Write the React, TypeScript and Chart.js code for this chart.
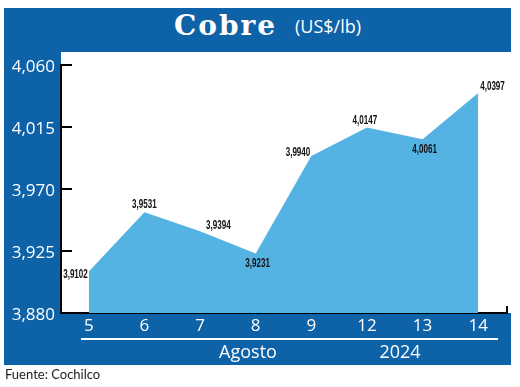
import React, { useEffect, useRef } from "react";
import { Chart, registerables } from "chart.js";

Chart.register(...registerables);

const CATEGORIES = ["5", "6", "7", "8", "9", "12", "13", "14"];
const PRICES = [3.9102, 3.9531, 3.9394, 3.9231, 3.994, 4.0147, 4.0061, 4.0397];
const Y_TICKS = [3.88, 3.925, 3.97, 4.015, 4.06];
const MONTH_LABEL = "Agosto";
const YEAR_LABEL = "2024";
const TITLE = "Cobre";
const UNIT = "(US$/lb)";
const SOURCE = "Fuente: Cochilco";

const BLUE = "#0e62a8";
const AREA = "#55b3e3";

const fmt = (v: number, d: number) => v.toFixed(d).replace(".", ",");

// label placement relative to each point (presentation only)
const LABEL_OFFSETS: { align: CanvasTextAlign; dx: number; dy: number }[] = [
  { align: "right", dx: -1, dy: 3 },
  { align: "center", dx: 0, dy: -8 },
  { align: "left", dx: 6, dy: -6 },
  { align: "center", dx: 2, dy: 10 },
  { align: "right", dx: -1, dy: -4 },
  { align: "center", dx: -2, dy: -7 },
  { align: "center", dx: 2, dy: 10 },
  { align: "left", dx: 2, dy: -7 },
];

const decorPlugin = {
  id: "decor",
  afterDraw(chart: any) {
    const ctx: CanvasRenderingContext2D = chart.ctx;
    const { left, right, bottom } = chart.chartArea;
    const y = chart.scales.y;
    ctx.save();
    ctx.strokeStyle = "#000";
    ctx.lineWidth = 2;
    Y_TICKS.forEach((t) => {
      const py = Math.round(y.getPixelForValue(t));
      ctx.beginPath();
      ctx.moveTo(left, py);
      ctx.lineTo(left + 11, py);
      ctx.stroke();
    });
    ctx.beginPath();
    ctx.moveTo(right + 1, bottom + 1);
    ctx.lineTo(right + 1, bottom - 7);
    ctx.stroke();

    const meta = chart.getDatasetMeta(0);
    ctx.fillStyle = "#111";
    ctx.font = 'bold 13px "Liberation Sans", Arial, sans-serif';
    ctx.textBaseline = "middle";
    meta.data.forEach((pt: any, i: number) => {
      const o = LABEL_OFFSETS[i];
      ctx.save();
      ctx.translate(pt.x + o.dx, pt.y + o.dy);
      ctx.scale(0.62, 1);
      ctx.textAlign = o.align;
      ctx.fillText(fmt(PRICES[i], 4), 0, 0);
      ctx.restore();
    });
    ctx.restore();
  },
};

export default function App() {
  const ref = useRef<HTMLCanvasElement | null>(null);

  useEffect(() => {
    if (!ref.current) return;
    const chart = new Chart(ref.current, {
      type: "line",
      data: {
        labels: CATEGORIES,
        datasets: [
          {
            data: PRICES,
            fill: "start",
            backgroundColor: AREA,
            borderColor: AREA,
            borderWidth: 0,
            pointRadius: 0,
            tension: 0,
          },
        ],
      },
      options: {
        responsive: false,
        animation: false,
        layout: { padding: { left: 0, top: 65, right: 14, bottom: 50 } },
        plugins: {
          legend: { display: false },
          tooltip: { enabled: false },
          title: { display: false },
        },
        scales: {
          x: {
            offset: true,
            grid: { display: false, drawTicks: false },
            border: { display: true, color: "#000", width: 2 },
            ticks: {
              color: "#fff",
              padding: 3,
              font: { family: '"Open Sans", sans-serif', size: 17 },
              maxRotation: 0,
              autoSkip: false,
            },
            afterFit: (s: any) => {
              s.height = 24;
            },
          },
          y: {
            min: Y_TICKS[0],
            max: Y_TICKS[Y_TICKS.length - 1],
            grid: { display: false, drawTicks: false },
            border: { display: true, color: "#000", width: 2 },
            afterBuildTicks: (s: any) => {
              s.ticks = Y_TICKS.map((v) => ({ value: v }));
            },
            ticks: {
              color: "#fff",
              padding: 6,
              labelOffset: 2,
              font: { family: '"Open Sans", sans-serif', size: 17 },
              callback: (v: any) => fmt(Number(v), 3),
            },
            afterFit: (s: any) => {
              s.width = 61;
            },
          },
        },
      },
      plugins: [decorPlugin],
    } as any);
    return () => chart.destroy();
  }, []);

  return (
    <div
      style={{
        position: "fixed",
        left: 0,
        top: 0,
        width: 520,
        height: 387,
        background: "#fff",
        overflow: "hidden",
      }}
    >
      <div style={{ position: "absolute", left: 4, top: 8, width: 507, height: 357, background: BLUE }} />
      <div style={{ position: "absolute", left: 61, top: 52, width: 459, height: 261, background: "#fff" }} />
      <div
        style={{
          position: "absolute",
          left: 174,
          top: 12,
          fontFamily: '"DejaVu Serif", serif',
          fontWeight: "bold",
          fontSize: 28,
          lineHeight: "28px",
          letterSpacing: 2,
          color: "#fff",
          whiteSpace: "nowrap",
        }}
      >
        {TITLE}
      </div>
      <div
        style={{
          position: "absolute",
          left: 295,
          top: 17,
          fontFamily: '"Open Sans", sans-serif',
          fontSize: 18,
          lineHeight: "18px",
          color: "#fff",
          whiteSpace: "nowrap",
        }}
      >
        {UNIT}
      </div>
      <canvas ref={ref} width={520} height={387} style={{ position: "absolute", left: 0, top: 0 }} />
      <div style={{ position: "absolute", left: 81, top: 338, width: 417, height: 2, background: "#fff" }} />
      <div
        style={{
          position: "absolute",
          left: 198,
          top: 342,
          width: 100,
          textAlign: "center",
          fontFamily: '"Open Sans", sans-serif',
          fontSize: 18,
          lineHeight: "18px",
          color: "#fff",
        }}
      >
        {MONTH_LABEL}
      </div>
      <div
        style={{
          position: "absolute",
          left: 350,
          top: 342,
          width: 100,
          textAlign: "center",
          fontFamily: '"Open Sans", sans-serif',
          fontSize: 18,
          lineHeight: "18px",
          color: "#fff",
        }}
      >
        {YEAR_LABEL}
      </div>
      <div
        style={{
          position: "absolute",
          left: 5,
          top: 368,
          fontFamily: "Lato, sans-serif",
          fontSize: 13,
          lineHeight: "13px",
          color: "#222",
          whiteSpace: "nowrap",
        }}
      >
        {SOURCE}
      </div>
    </div>
  );
}
